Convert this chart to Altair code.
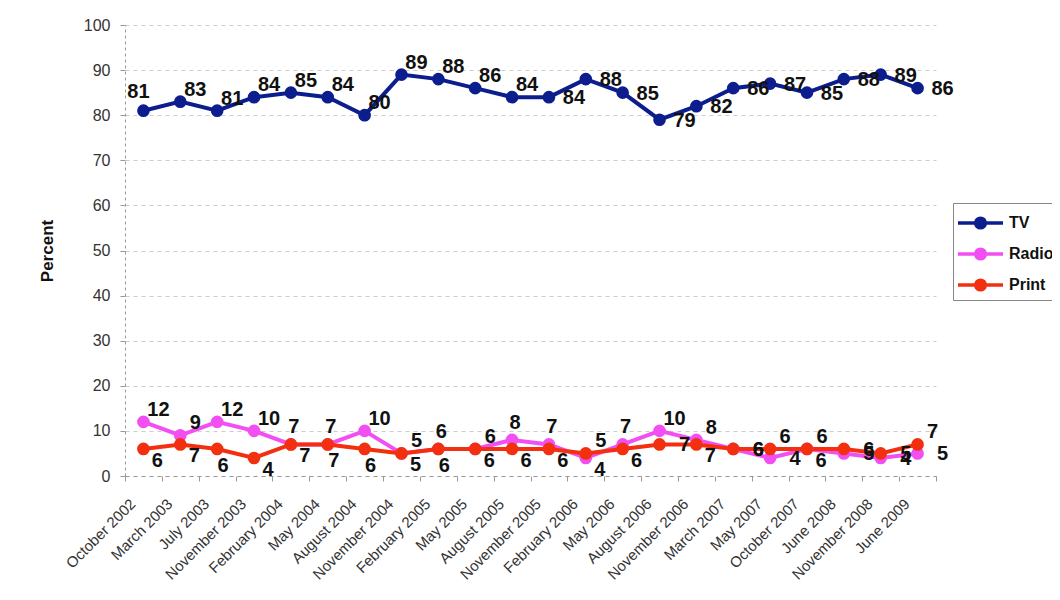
import altair as alt
import pandas as pd

categories = ["October 2002", "March 2003", "July 2003", "November 2003", "February 2004",
              "May 2004", "August 2004", "November 2004", "February 2005", "May 2005",
              "August 2005", "November 2005", "February 2006", "May 2006", "August 2006",
              "November 2006", "March 2007", "May 2007", "October 2007", "June 2008",
              "November 2008", "June 2009"]
tv = [81, 83, 81, 84, 85, 84, 80, 89, 88, 86, 84, 84, 88, 85, 79, 82, 86, 87, 85, 88, 89, 86]
radio = [12, 9, 12, 10, 7, 7, 10, 5, 6, 6, 8, 7, 4, 7, 10, 8, 6, 4, 6, 5, 4, 5]
printv = [6, 7, 6, 4, 7, 7, 6, 5, 6, 6, 6, 6, 5, 6, 7, 7, 6, 6, 6, 6, 5, 7]

# label placement hints (like Excel's label position)
tv_pos = ["UL"] + ["UR"] * 10 + ["R"] * 11
radio_pos = ["UR", "UR", "UR", "UR", "U", "U", "UR", "UR", "U", "UR", "U", "U",
             "DR", "U", "UR", "UR", "R", "R", "DR", "R", "R", "R"]
print_pos = ["DR", "DR", "D", "DR", "DR", "D", "D", "DR", "D", "DR", "DR", "DR",
             "UR", "DR", "R", "DR", "R", "UR", "UR", "R", "R", "UR"]

series_names = ["TV", "Radio", "Print"]
series_colors = ["#0c1e8e", "#f24ff2", "#f2300f"]

rows = []
for name, vals, poss in [("TV", tv, tv_pos), ("Radio", radio, radio_pos), ("Print", printv, print_pos)]:
    for c, v, p in zip(categories, vals, poss):
        rows.append({"period": c, "series": name, "value": v, "pos": p})
df = pd.DataFrame(rows)

offsets = {"R": (25, 1), "UR": (15, -12), "DR": (14, 12), "U": (3, -17), "D": (6, 17), "UL": (-5, -19)}

FONT = "Liberation Sans"

def circ(cx, r):
    return f"M{cx + r},0A{r},{r} 0 1,0 {cx - r},0A{r},{r} 0 1,0 {cx + r},0"

sym_path = "M-1,0L2,0" + circ(0.5, 0.32) + circ(0.5, 0.22) + circ(0.5, 0.12) + circ(0.5, 0.03)

x_enc = alt.X("period:N", sort=categories,
              scale=alt.Scale(type="band", paddingInner=0, paddingOuter=0),
              bandPosition=0.5,
              axis=alt.Axis(title=None, grid=False, tickBand="extent", domainDash=[4, 4],
                            domainColor="#999999", tickColor="#999999", tickSize=5,
                            labelAngle=-45, labelAlign="right", labelBaseline="middle",
                            labelFontSize=15, labelColor="#333333", labelFont=FONT,
                            labelPadding=20, labelOffset=-11))
y_enc = alt.Y("value:Q", scale=alt.Scale(domain=[0, 100]),
              axis=alt.Axis(values=list(range(0, 101, 10)), title="Percent",
                            titleFontSize=17, titleFontWeight="bold", titleColor="#111111",
                            titleFont=FONT, titlePadding=27,
                            labelFontSize=16, labelColor="#333333", labelFont=FONT,
                            labelPadding=10, tickSize=5, tickColor="#999999",
                            domainDash=[3, 3], domainColor="#999999",
                            gridDash=[4, 4], gridColor="#cccccc"))

legend = alt.Legend(title=None, orient="none", legendX=828, legendY=178,
                    strokeColor="#888888", padding=3, symbolType=sym_path, symbolSize=900,
                    symbolStrokeWidth=3.5, labelFontSize=16, labelFontWeight="bold",
                    labelColor="#111111", labelFont=FONT, labelOffset=19, rowPadding=2,
                    symbolOpacity=1)
color_enc = alt.Color("series:N", scale=alt.Scale(domain=series_names, range=series_colors),
                      legend=legend)

layers = []
for name in series_names:
    base = alt.Chart(df).transform_filter(alt.datum.series == name).encode(x=x_enc, y=y_enc, color=color_enc)
    layers.append(base.mark_line(strokeWidth=4, opacity=1))
    layers.append(base.mark_point(filled=True, size=160, opacity=1))

for key, (dx, dy) in offsets.items():
    layers.append(
        alt.Chart(df).transform_filter(alt.datum.pos == key)
        .mark_text(dx=dx, dy=dy, fontSize=20, fontWeight="bold", font=FONT, color="#111111")
        .encode(x=x_enc, y=y_enc, text="value:Q")
    )

chart = alt.layer(*layers).properties(
    width=811, height=451,
    autosize=alt.AutoSizeParams(type="none"),
    padding={"left": 117, "top": 17, "right": 116, "bottom": 112},
).configure_view(stroke=None)

chart.save("out.html", embed_options={"renderer": "svg", "actions": False})
